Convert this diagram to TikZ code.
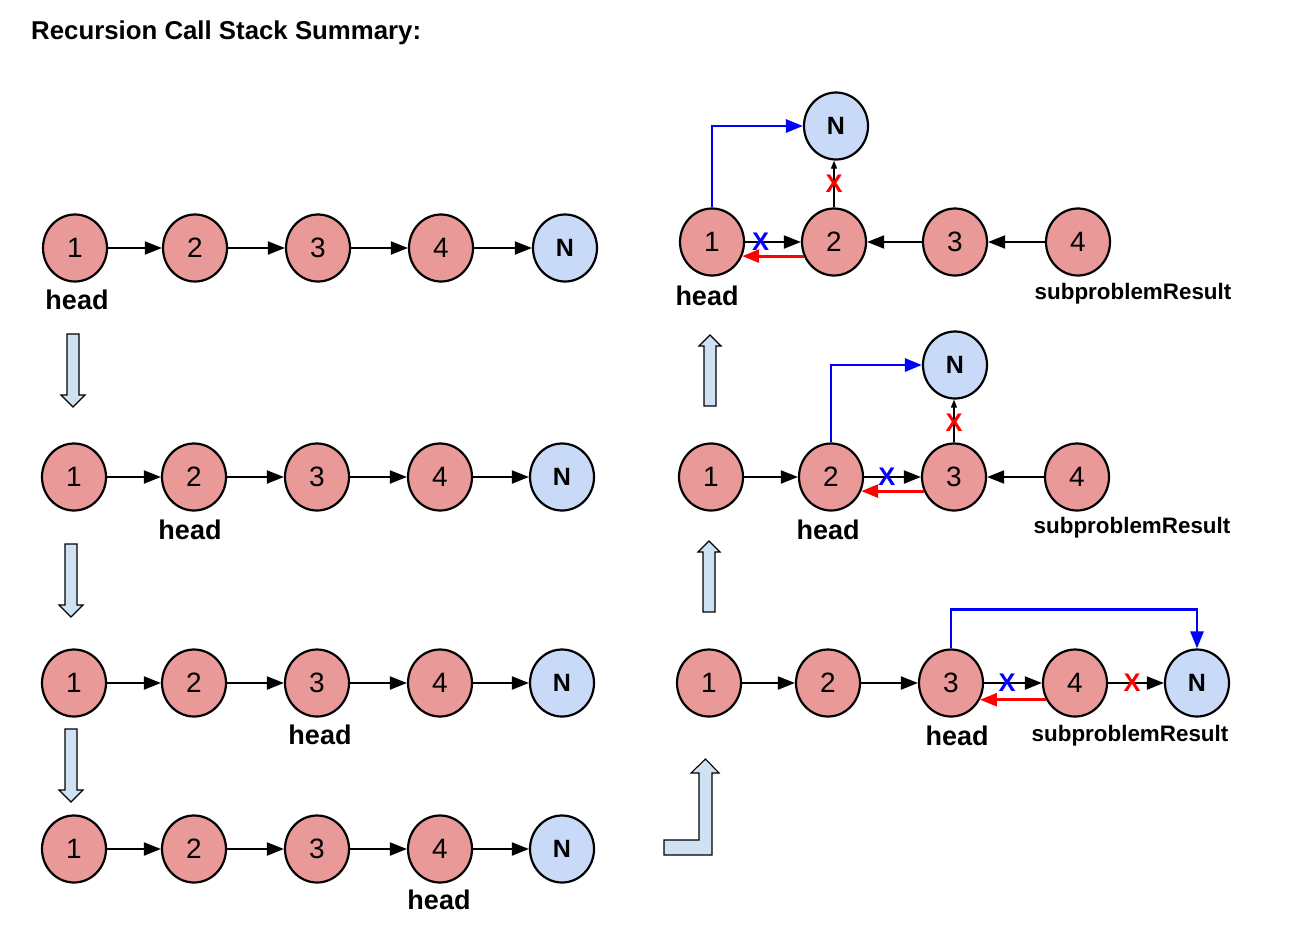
\documentclass[tikz,border=0pt]{standalone}
\usepackage{fontspec}
\setmainfont{Liberation Sans}
\usetikzlibrary{shapes.geometric,arrows.meta}
\definecolor{nodered}{HTML}{EA9999}
\definecolor{nodeblue}{HTML}{C9DAF8}
\definecolor{arrowblue}{HTML}{CFE2F3}
\definecolor{xblue}{HTML}{0000FF}
\definecolor{xred}{HTML}{FF0000}
\begin{document}
\begin{tikzpicture}[x=1pt,y=-1pt,
  lnode/.style={ellipse, draw=black, line width=2.2pt, fill=nodered, minimum width=64pt, minimum height=67pt, inner sep=0pt, font=\fontsize{28}{28}\selectfont},
  nnode/.style={lnode, fill=nodeblue, font=\fontsize{25}{25}\selectfont\bfseries},
  conn/.style={line width=2pt, -{Triangle[length=17pt,width=13pt]}},
  redarr/.style={line width=2.8pt, draw=xred, -{Triangle[length=17pt,width=13pt]}},
  bluearr/.style={line width=2.8pt, draw=xblue, -{Triangle[length=17pt,width=13pt]}},
  thinarr/.style={line width=1.1pt, -{Triangle[length=8pt,width=6pt]}},
  xb/.style={text=xblue, font=\fontsize{25.5}{25.5}\selectfont\bfseries, inner sep=0pt},
  xr/.style={text=xred, font=\fontsize{25.5}{25.5}\selectfont\bfseries, inner sep=0pt},
  lbl/.style={font=\fontsize{27}{27}\selectfont\bfseries, inner sep=0pt},
  sublbl/.style={font=\fontsize{22.4}{22.4}\selectfont\bfseries, inner sep=0pt},
  hollow/.style={draw=black, line width=1.1pt, fill=arrowblue, line join=miter},
  downarrow/.pic={\draw[hollow] (-6,0) -- (6,0) -- (6,61) -- (12,61) -- (0,73) -- (-12,61) -- (-6,61) -- cycle;},
  uparrow/.pic={\draw[hollow] (-6,0) -- (6,0) -- (6,-60) -- (11,-60) -- (0,-71) -- (-11,-60) -- (-6,-60) -- cycle;}
]
\useasboundingbox (0,0) rectangle (1308,932);
\fill[white] (0,0) rectangle (1308,932);

\node[anchor=west, font=\fontsize{25.8}{25.8}\selectfont\bfseries, inner sep=0pt] (title) at (31,33) {Recursion Call Stack Summary:};

% ---------- left column ----------
% row 1
\node[lnode] (p1) at (75,248) {1};
\node[lnode] (p2) at (195,248) {2};
\node[lnode] (p3) at (318,248) {3};
\node[lnode] (p4) at (441,248) {4};
\node[nnode] (pN) at (565,248) {N};
\draw[conn] (p1) -- (p2);
\draw[conn] (p2) -- (p3);
\draw[conn] (p3) -- (p4);
\draw[conn] (p4) -- (pN);
\node[lbl] (ph) at (77,300) {head};

% row 2
\node[lnode] (q1) at (74,477) {1};
\node[lnode] (q2) at (194,477) {2};
\node[lnode] (q3) at (317,477) {3};
\node[lnode] (q4) at (440,477) {4};
\node[nnode] (qN) at (562,477) {N};
\draw[conn] (q1) -- (q2);
\draw[conn] (q2) -- (q3);
\draw[conn] (q3) -- (q4);
\draw[conn] (q4) -- (qN);
\node[lbl] (qh) at (190,530) {head};

% row 3
\node[lnode] (r1) at (74,683) {1};
\node[lnode] (r2) at (194,683) {2};
\node[lnode] (r3) at (317,683) {3};
\node[lnode] (r4) at (440,683) {4};
\node[nnode] (rN) at (562,683) {N};
\draw[conn] (r1) -- (r2);
\draw[conn] (r2) -- (r3);
\draw[conn] (r3) -- (r4);
\draw[conn] (r4) -- (rN);
\node[lbl] (rh) at (320,735) {head};

% row 4
\node[lnode] (s1) at (74,849) {1};
\node[lnode] (s2) at (194,849) {2};
\node[lnode] (s3) at (317,849) {3};
\node[lnode] (s4) at (440,849) {4};
\node[nnode] (sN) at (562,849) {N};
\draw[conn] (s1) -- (s2);
\draw[conn] (s2) -- (s3);
\draw[conn] (s3) -- (s4);
\draw[conn] (s4) -- (sN);
\node[lbl] (sh) at (439,900) {head};

% down arrows
\pic at (73,334) {downarrow};
\pic at (71,544) {downarrow};
\pic at (71,729) {downarrow};

% ---------- right column ----------
% row A (top)
\node[lnode] (a1) at (712,242) {1};
\node[lnode] (a2) at (834,242) {2};
\node[lnode] (a3) at (955,242) {3};
\node[lnode] (a4) at (1078,242) {4};
\node[nnode] (aN) at (836,126) {N};
\draw[conn] (a1) -- node[xb, pos=0.28] (ax) {X} (a2);
\draw[conn] (a3) -- (a2);
\draw[conn] (a4) -- (a3);
\draw[redarr] (a2.205) -- (a1.-25);
\draw[bluearr] (a1.north) |- (aN.west);
\draw[thinarr] (a2.north) -- node[xr, pos=0.5] (axr) {X} (a2.north |- aN.south);
\node[lbl] (ah) at (707,296) {head};
\node[sublbl] (as) at (1133,294) {subproblemResult};

% row B
\node[lnode] (b1) at (711,477) {1};
\node[lnode] (b2) at (831,477) {2};
\node[lnode] (b3) at (954,477) {3};
\node[lnode] (b4) at (1077,477) {4};
\node[nnode] (bN) at (955,365) {N};
\draw[conn] (b1) -- (b2);
\draw[conn] (b2) -- node[xb, pos=0.4] (bx) {X} (b3);
\draw[conn] (b4) -- (b3);
\draw[redarr] (b3.205) -- (b2.-25);
\draw[bluearr] (b2.north) |- (bN.west);
\draw[thinarr] (b3.north) -- node[xr, pos=0.45] (bxr) {X} (b3.north |- bN.south);
\node[lbl] (bh) at (828,530) {head};
\node[sublbl] (bs) at (1132,528) {subproblemResult};

% row C
\node[lnode] (c1) at (709,683) {1};
\node[lnode] (c2) at (828,683) {2};
\node[lnode] (c3) at (951,683) {3};
\node[lnode] (c4) at (1075,683) {4};
\node[nnode] (cN) at (1197,683) {N};
\draw[conn] (c1) -- (c2);
\draw[conn] (c2) -- (c3);
\draw[conn] (c3) -- node[xb, pos=0.4] (cx) {X} (c4);
\draw[conn] (c4) -- node[xr, pos=0.43] (cxr) {X} (cN);
\draw[redarr] (c4.210) -- (c3.-30);
\draw[bluearr] (c3.north) -- ++(0,-39) -| (cN.north);
\node[lbl] (ch) at (957,736) {head};
\node[sublbl] (cs) at (1130,736) {subproblemResult};

% up arrows
\pic at (710,406) {uparrow};
\pic at (709,612) {uparrow};
\draw[hollow] (664,855) -- (712,855) -- (712,773) -- (719,773) -- (705.5,759) -- (691,773) -- (699,773) -- (699,840) -- (664,840) -- cycle;
\end{tikzpicture}
\end{document}
